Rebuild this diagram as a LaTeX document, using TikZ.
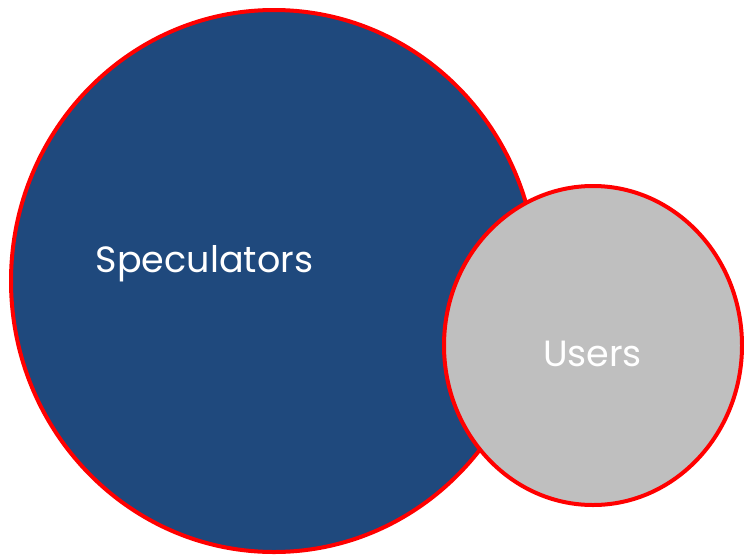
\documentclass[tikz,border=0pt]{standalone}
\usepackage{fontspec}
\setmainfont{Poppins}
\usetikzlibrary{positioning}
\definecolor{specblue}{HTML}{1F497D}
\definecolor{usergray}{HTML}{BFBFBF}
\tikzset{
	bubble/.style={draw=red, line width=4pt},
	label/.style={text=white, font=\fontsize{36.5}{38}\selectfont, inner sep=0pt, anchor=base}
}
\begin{document}
\begin{tikzpicture}[x=1pt,y=-1pt]
		\useasboundingbox (0,0) rectangle (744,555);
		\draw[bubble, fill=specblue] (274,281) ellipse [x radius=263, y radius=271];
		\draw[bubble, fill=usergray] (593,345.5) ellipse [x radius=149, y radius=159.5];
		\node[label] (spec) at (204.5,272) {Speculators};
		\node[label] (users) at (592.5,366) {Users};
	\end{tikzpicture}
\end{document}
